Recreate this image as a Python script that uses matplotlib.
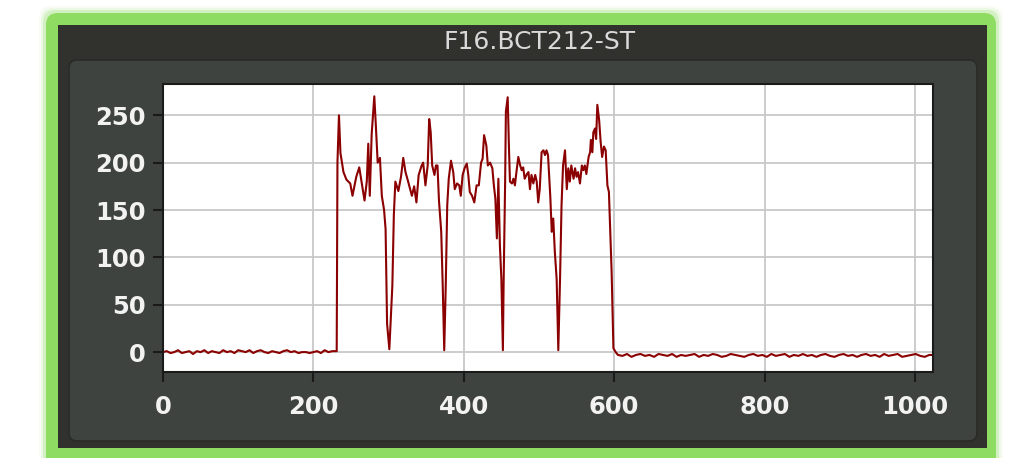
import matplotlib.pyplot as plt
from matplotlib.patches import FancyBboxPatch, Rectangle

# signal trace: flat baseline, beam section with four dips, flat baseline again
base_x1 = [0, 5, 10, 15, 20, 25, 30, 35, 40, 45, 50, 55, 60, 65, 70, 75, 80, 85,
           90, 95, 100, 105, 110, 115, 120, 125, 130, 135, 140, 145, 150, 155,
           160, 165, 170, 175, 180, 185, 190, 195, 200, 205, 210, 215, 220, 225, 230]
base_y1 = [0, 1, -1, 0, 2, -1, 0, 1, -2, 1, 0, 2, -1, 1, 0, -1, 2, 0, 1, -1,
           2, 1, 0, 2, -1, 1, 2, 0, -1, 1, 0, -1, 1, 2, 0, 1, -1, 0, 0, -1,
           0, 1, -1, 2, 0, 1, 1]

beam_x = [231, 232, 234, 236, 240, 244, 249, 252, 257, 261, 265, 268, 271, 273,
          275, 277.5, 281, 283, 285.5, 288.5, 291, 294, 296, 298, 301, 305, 307,
          309, 313, 316.5, 319.5, 322.5, 326, 331, 334, 337, 340, 344, 346, 349,
          352, 354, 356, 358, 361, 363, 365, 367, 370, 372, 374, 376, 378, 380,
          383, 386, 388, 391, 394, 396, 398.5, 401, 404, 406, 408, 411, 414, 417,
          420, 423, 425, 427, 430, 432, 435, 438, 440, 442, 444, 446, 448, 450,
          452, 453, 455, 456, 458.4, 460, 461.4, 464, 466, 468, 470, 472.5, 475,
          477, 479, 481, 484, 486, 488, 490, 492.5, 495, 497, 499, 501, 503.5,
          506, 508, 510, 512, 515, 517, 519, 521, 523.5, 525.7, 528, 530, 532,
          534.6, 537, 539, 541, 543, 546, 548, 550, 552, 554.5, 557, 559, 561,
          563, 566, 568, 569, 571, 572.3, 574.5, 576, 577.6, 580, 582, 584, 586.4,
          588.7, 591, 593, 595, 596.6, 599, 602, 605]
beam_y = [1, 200, 250, 210, 190, 182, 178, 165, 185, 195, 175, 160, 180, 220,
          165, 230, 270, 240, 200, 205, 165, 150, 130, 30, 3, 70, 145,
          180, 170, 185, 205, 190, 180, 165, 175, 158, 187, 197, 200, 176,
          197, 246, 232, 197, 187, 197, 197, 160, 127, 70, 2, 70, 155, 183,
          202, 190, 172, 178, 176, 165, 187, 194, 199, 187, 169, 165, 158, 176,
          176, 200, 204, 229, 218, 197, 200, 194, 176, 162, 120, 183, 113, 77,
          2, 74, 180, 254, 269, 218, 180, 178, 183, 176, 190, 206, 197,
          192, 195, 183, 188, 190, 172, 187, 178, 187, 180, 158, 172, 211,
          213, 208, 213, 208, 165, 127, 141, 107, 77, 2, 77, 155, 197,
          213, 172, 194, 180, 197, 183, 194, 185, 190, 178, 197, 192, 197,
          188, 206, 211, 224, 211, 232, 236, 225, 261, 245, 222, 206, 217,
          213, 176, 169, 123, 85, 4, 0, -3]

base_x2 = [611, 617, 623, 629, 635, 641, 647, 653, 659, 665, 671, 677, 683, 689,
           695, 701, 707, 713, 719, 725, 731, 737, 743, 749, 755, 761, 767, 773,
           779, 785, 791, 797, 803, 809, 815, 821, 827, 833, 839, 845, 851, 857,
           863, 869, 875, 881, 887, 893, 899, 905, 911, 917, 923, 929, 935, 941,
           947, 953, 959, 965, 971, 977, 983, 989, 995, 1001, 1007, 1013, 1019, 1023]
base_y2 = [-4, -2, -5, -3, -2, -4, -3, -5, -2, -3, -4, -2, -5, -3, -4, -3, -2,
           -5, -3, -4, -2, -3, -5, -4, -2, -3, -4, -5, -3, -2, -4, -3, -5, -2,
           -4, -3, -2, -5, -3, -4, -2, -4, -3, -5, -3, -2, -4, -5, -3, -2, -4,
           -3, -5, -3, -2, -4, -3, -5, -2, -4, -3, -2, -5, -4, -3, -2, -4, -5, -3, -3]

x = base_x1 + beam_x + base_x2
y = base_y1 + beam_y + base_y2

xticks = [0, 200, 400, 600, 800, 1000]
yticks = [0, 50, 100, 150, 200, 250]

W, H = 1009, 458
fig = plt.figure(figsize=(W / 100, H / 100), dpi=100)

# panel chrome drawn in pixel coordinates
bg = fig.add_axes([0, 0, 1, 1])
bg.set_xlim(0, W)
bg.set_ylim(H, 0)
bg.axis('off')

green = '#8edc62'
for grow, alpha in [(7, 0.06), (5, 0.12), (3, 0.25), (0, 1.0)]:
    bg.add_patch(FancyBboxPatch((46 - grow, 13 - grow), 950 + 2 * grow, 480,
                                boxstyle='round,pad=0,rounding_size=12',
                                fc=green, ec='none', alpha=alpha))
bg.add_patch(Rectangle((58, 25), 929, 423, fc='#31322d', ec='none'))
bg.add_patch(FancyBboxPatch((69, 60), 908, 381,
                            boxstyle='round,pad=0,rounding_size=8',
                            fc='#3e433f', ec='#2a2b27', lw=1.2))
bg.text(540, 42, 'F16.BCT212-ST', color='#d9d9d9', fontsize=18,
        ha='center', va='center')

ax = fig.add_axes([163 / W, 1 - 372 / H, 770 / W, 288 / H])
ax.set_facecolor('white')
ax.plot(x, y, color='#8b0000', lw=1.5)
ax.set_xlim(0, 1024)
ax.set_ylim(-21, 283)
ax.set_xticks(xticks)
ax.set_yticks(yticks)
ax.grid(True, color='#c8c8c8', lw=1.3)
ax.set_axisbelow(True)
for s in ax.spines.values():
    s.set_color('#1a1a1a')
    s.set_linewidth(1.5)
ax.tick_params(direction='out', length=7.5, width=1.5, color='#1a1a1a',
               labelcolor='#f2f2f2', labelsize=17.5)
ax.tick_params(axis='x', pad=9)
ax.tick_params(axis='y', pad=5)
for lab in ax.get_xticklabels() + ax.get_yticklabels():
    lab.set_fontweight('bold')

fig.savefig('out.png', dpi=100)
